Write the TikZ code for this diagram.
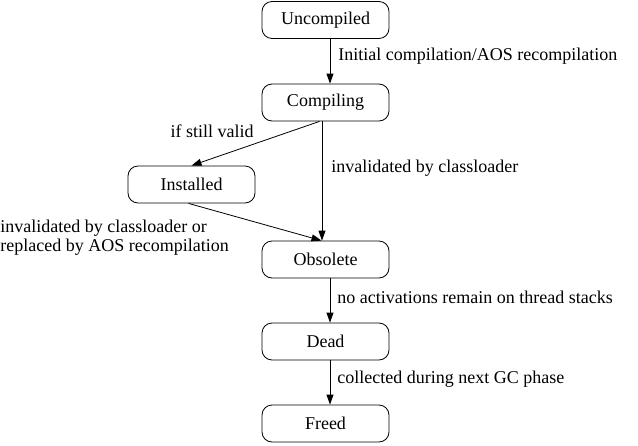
\documentclass[tikz,border=0pt]{standalone}
\usepackage{fontspec}
\setmainfont{Liberation Serif}
\usetikzlibrary{arrows.meta, positioning}
\tikzset{state/.style={draw, rounded corners=10pt, minimum width=127pt, minimum height=37pt, inner sep=0pt},
  edgelabel/.style={inner sep=0pt, align=left}}

\begin{document}
\begin{tikzpicture}[x=1pt, y=-1pt, >={Triangle[length=10pt,width=7pt]}, line width=0.8pt, node distance=82pt, font=\fontsize{18}{19}\selectfont]
\useasboundingbox (0,0) rectangle (638,445);
\node[state] (uncompiled) at (325.5,20) {Uncompiled};
\node[state, below of=uncompiled, node distance=82.5pt] (compiling) {Compiling};
\node[state] (installed) at (191.5,184.5) {Installed};
\node[state, below of=compiling, node distance=157pt] (obsolete) {Obsolete};
\node[state, below of=obsolete] (dead) {Dead};
\node[state, below of=dead] (freed) {Freed};
\draw[->] ([xshift=4.5pt]uncompiled.south) -- node[edgelabel, anchor=west, pos=0.38, xshift=8pt] (lblinit) {Initial compilation/AOS recompilation} ([xshift=4.5pt]compiling.north);
\draw[->] ([xshift=-3.5pt]compiling.south) -- node[edgelabel, anchor=west, pos=0.39, xshift=9pt] (lblinvalid) {invalidated by classloader} ([xshift=-3.5pt]obsolete.north);
\draw[->] ([xshift=-6pt]compiling.south) -- (installed.north);
\draw[->] ([xshift=-3pt]installed.south) -- ([xshift=-4pt]obsolete.north);
\draw[->] ([xshift=4.5pt]obsolete.south) -- node[edgelabel, anchor=west, pos=0.42, xshift=7pt] (lblnoact) {no activations remain on thread stacks} ([xshift=4.5pt]dead.north);
\draw[->] ([xshift=4.5pt]dead.south) -- node[edgelabel, anchor=west, pos=0.42, xshift=7pt] (lblcollect) {collected during next GC phase} ([xshift=4.5pt]freed.north);
\node[edgelabel, anchor=east] (lblvalid) at (254,131) {if still valid};
\node[edgelabel, anchor=west] (lblreplace) at (0,237.5) {invalidated by classloader or\\replaced by AOS recompilation};
\end{tikzpicture}
\end{document}
